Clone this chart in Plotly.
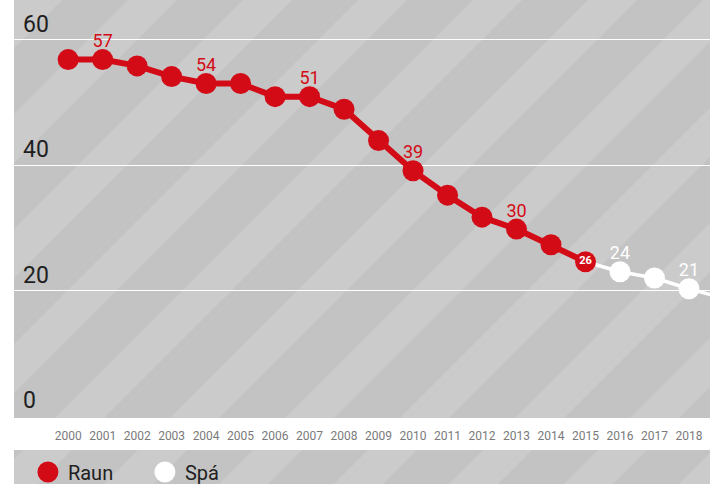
import plotly.graph_objects as go

# ---------------- data ----------------
raun_years = list(range(2000, 2016))
raun_values = [56.8, 56.8, 55.8, 54.1, 53.0, 53.0, 50.9, 50.9, 48.9, 43.9,
               39.1, 35.2, 31.7, 29.8, 27.3, 24.6]
raun_labels = ["", "57", "", "", "54", "", "", "51", "", "",
               "39", "", "", "30", "", ""]
raun_inner_label = ["", "", "", "", "", "", "", "", "", "",
                    "", "", "", "", "", "<b>26</b>"]

spa_years = [2015, 2016, 2017, 2018, 2019]
spa_values = [24.6, 23.0, 22.0, 20.3, 18.8]
spa_labels = ["", "24", "", "21", ""]

x_ticks = list(range(2000, 2019))
y_ticks = [0, 20, 40, 60]
y_ticktext = ["0", "20", "40", "60"]
grid_vals = [20, 40, 60]

# ---------------- style ----------------
W, H = 710, 484
ML, MT = 14, 0
PW, PH = 696, 418
RED = "#d30b16"
DARK = "#c3c3c3"
LIGHT = "#cbcbcb"
FONT = "Roboto"


def to_paper(px, py):
    return (px - ML) / PW, (MT + PH - py) / PH


def clip_poly(poly, xmin, xmax, ymin, ymax):
    def clip(pts, inside, inter):
        out = []
        n = len(pts)
        for i in range(n):
            cur, prev = pts[i], pts[i - 1]
            ci, pi = inside(cur), inside(prev)
            if ci:
                if not pi:
                    out.append(inter(prev, cur))
                out.append(cur)
            elif pi:
                out.append(inter(prev, cur))
        return out

    def ix(xc):
        def f(p, q):
            t = (xc - p[0]) / (q[0] - p[0])
            return (xc, p[1] + t * (q[1] - p[1]))
        return f

    def iy(yc):
        def f(p, q):
            t = (yc - p[1]) / (q[1] - p[1])
            return (p[0] + t * (q[0] - p[0]), yc)
        return f

    pts = poly
    pts = clip(pts, lambda p: p[0] >= xmin, ix(xmin)) if pts else pts
    pts = clip(pts, lambda p: p[0] <= xmax, ix(xmax)) if pts else pts
    pts = clip(pts, lambda p: p[1] >= ymin, iy(ymin)) if pts else pts
    pts = clip(pts, lambda p: p[1] <= ymax, iy(ymax)) if pts else pts
    return pts


def striped_rect(x0, y0, x1, y1):
    shapes = []
    a0, b0 = to_paper(x0, y0)
    a1, b1 = to_paper(x1, y1)
    shapes.append(dict(type="rect", xref="paper", yref="paper",
                       x0=a0, x1=a1, y0=b1, y1=b0, fillcolor=DARK,
                       line=dict(width=0), layer="below"))
    period, offset, width = 115, 13, 49
    k0 = int((x0 + y0 - offset) // period) - 1
    k1 = int((x1 + y1 - offset) // period) + 1
    for k in range(k0, k1 + 1):
        a = offset + k * period
        b = a + width
        ya, yb = y0 - 50, y1 + 50
        poly = [(a - ya, ya), (b - ya, ya), (b - yb, yb), (a - yb, yb)]
        poly = clip_poly(poly, x0, x1, y0, y1)
        if len(poly) < 3:
            continue
        pp = [to_paper(px, py) for px, py in poly]
        path = "M " + " L ".join(f"{u:.5f},{v:.5f}" for u, v in pp) + " Z"
        shapes.append(dict(type="path", xref="paper", yref="paper", path=path,
                           fillcolor=LIGHT, line=dict(width=0), layer="below"))
    return shapes


shapes = striped_rect(14, 0, 710, 418) + striped_rect(14, 450, 710, 484)

fig = go.Figure()

# forecast series
fig.add_trace(go.Scatter(
    x=spa_years, y=spa_values, mode="lines+markers",
    line=dict(color="white", width=3.5),
    marker=dict(color="white", size=21),
    showlegend=False, hoverinfo="skip"))
fig.add_trace(go.Scatter(
    x=spa_years, y=spa_values, mode="markers+text",
    marker=dict(color="rgba(0,0,0,0)", size=11),
    text=spa_labels, textposition="top center",
    textfont=dict(family=FONT, size=18, color="white"),
    showlegend=False, hoverinfo="skip"))

# actual series
fig.add_trace(go.Scatter(
    x=raun_years, y=raun_values, mode="lines+markers+text",
    line=dict(color=RED, width=6),
    marker=dict(color=RED, size=21),
    text=raun_inner_label, textposition="middle center",
    textfont=dict(family=FONT, size=11, color="white"),
    showlegend=False, hoverinfo="skip"))
fig.add_trace(go.Scatter(
    x=raun_years, y=raun_values, mode="markers+text",
    marker=dict(color="rgba(0,0,0,0)", size=11),
    text=raun_labels, textposition="top center",
    textfont=dict(family=FONT, size=18, color=RED),
    showlegend=False, hoverinfo="skip"))

# legend entries
fig.add_trace(go.Scatter(x=[None], y=[None], mode="markers", name="Raun",
                         marker=dict(color=RED, size=16,
                                     line=dict(color=RED, width=5))))
fig.add_trace(go.Scatter(x=[None], y=[None], mode="markers", name="Spá",
                         marker=dict(color="white", size=16,
                                     line=dict(color="white", width=5))))

fig.update_layout(
    width=W, height=H,
    margin=dict(l=ML, r=W - ML - PW, t=MT, b=H - MT - PH, autoexpand=False),
    paper_bgcolor="white",
    plot_bgcolor="rgba(0,0,0,0)",
    shapes=shapes,
    font=dict(family=FONT),
    showlegend=True,
    legend=dict(orientation="h", x=0.02, y=to_paper(0, 472)[1],
                xanchor="left", yanchor="middle",
                bgcolor="rgba(0,0,0,0)", itemsizing="trace",
                entrywidth=72, entrywidthmode="pixels",
                font=dict(family=FONT, size=20, color="#1e1e1e")),
    xaxis=dict(range=[1998.43, 2018.61], tickvals=x_ticks,
               showgrid=False, zeroline=False, showline=False,
               ticks="outside", ticklen=7, tickcolor="rgba(0,0,0,0)",
               tickfont=dict(family=FONT, size=12, color="#7a7a7a"),
               fixedrange=True),
    yaxis=dict(range=[-0.3, 66.3], tickvals=y_ticks, ticktext=y_ticktext,
               ticklabelposition="inside top", ticklabelstandoff=6,
               showgrid=False, zeroline=False, showline=False,
               tickfont=dict(family=FONT, size=23, color="#1e1e1e"),
               minor=dict(tickvals=grid_vals, showgrid=True,
                          gridcolor="white", gridwidth=1.2, ticks=""),
               fixedrange=True),
)

fig.write_html("out.html", config={"displayModeBar": False},
               post_script="document.body.style.margin='0';"
                           "document.body.style.overflow='hidden';")
